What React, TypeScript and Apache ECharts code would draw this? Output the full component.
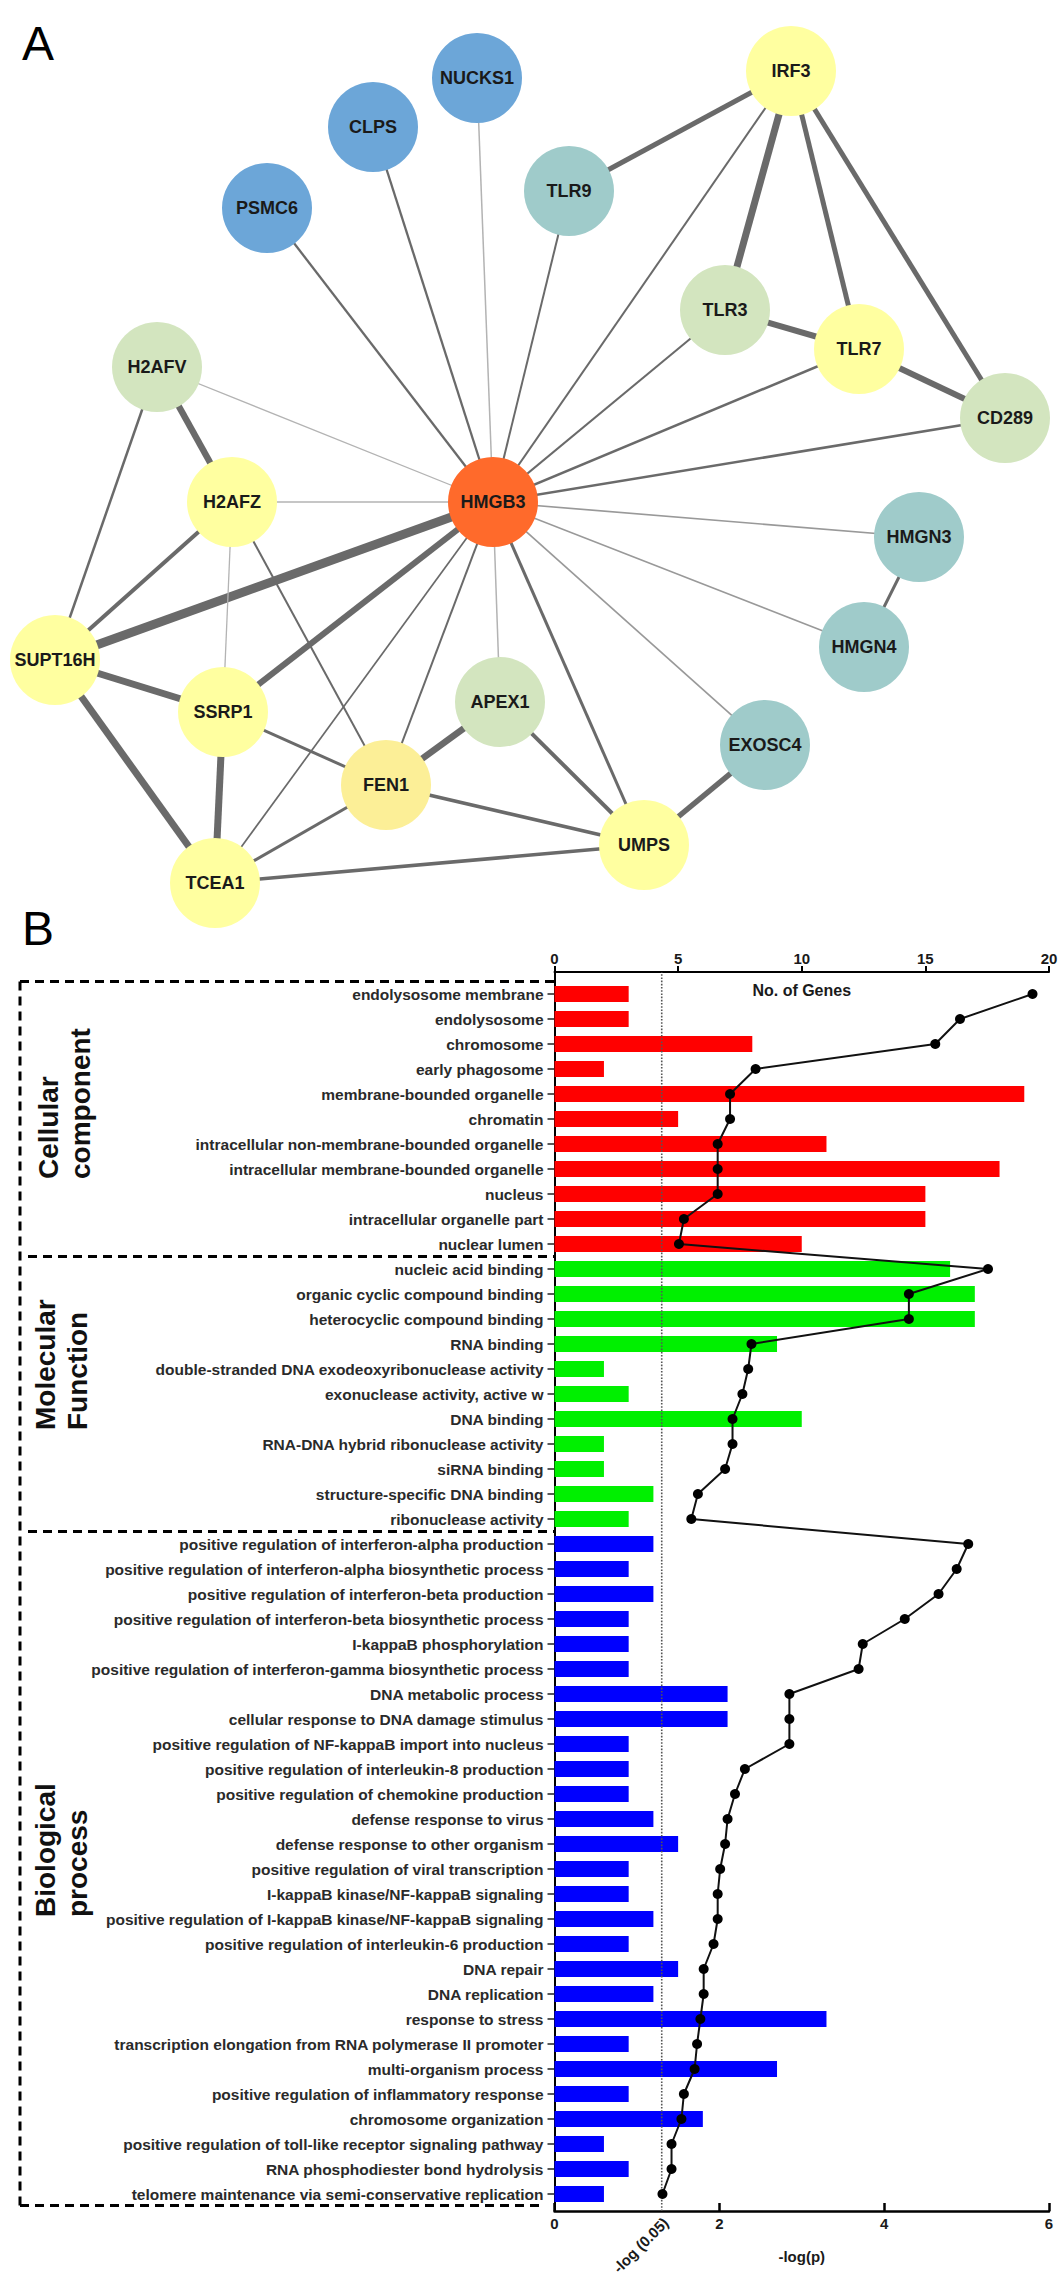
import React, { useEffect, useRef } from 'react';
import * as echarts from 'echarts';

// ---------- Panel A: network ----------
const nodeNames = ['HMGB3', 'IRF3', 'NUCKS1', 'CLPS', 'PSMC6', 'TLR9', 'TLR3', 'TLR7', 'CD289', 'H2AFV', 'H2AFZ', 'HMGN3', 'HMGN4', 'SUPT16H', 'SSRP1', 'APEX1', 'FEN1', 'EXOSC4', 'UMPS', 'TCEA1'];
const nodeX = [493, 791, 477, 373, 267, 569, 725, 859, 1005, 157, 232, 919, 864, 55, 223, 500, 386, 765, 644, 215];
const nodeY = [502, 71, 78, 127, 208, 191, 310, 349, 418, 367, 502, 537, 647, 660, 712, 702, 785, 745, 845, 883];
const nodeGroup = ['hub', 'yellow', 'blue', 'blue', 'blue', 'teal', 'green', 'yellow', 'green', 'green', 'yellow', 'teal', 'teal', 'yellow', 'yellow', 'green', 'gold', 'teal', 'yellow', 'yellow'];

const edgeList: [string, string, number, string][] = [
  ['HMGB3', 'NUCKS1', 1.5, 'l'],
  ['HMGB3', 'CLPS', 2.3, 'd'],
  ['HMGB3', 'PSMC6', 2.3, 'd'],
  ['HMGB3', 'TLR9', 2, 'd'],
  ['HMGB3', 'IRF3', 2, 'd'],
  ['HMGB3', 'TLR3', 2, 'd'],
  ['HMGB3', 'TLR7', 2.5, 'd'],
  ['HMGB3', 'CD289', 2.5, 'd'],
  ['HMGB3', 'H2AFV', 1.3, 'l'],
  ['HMGB3', 'H2AFZ', 1.7, 'l'],
  ['HMGB3', 'HMGN3', 1.7, 'm'],
  ['HMGB3', 'HMGN4', 1.5, 'm'],
  ['HMGB3', 'EXOSC4', 1.7, 'm'],
  ['HMGB3', 'UMPS', 3, 'd'],
  ['HMGB3', 'APEX1', 1.5, 'l'],
  ['HMGB3', 'FEN1', 2, 'd'],
  ['HMGB3', 'TCEA1', 1.7, 'd'],
  ['HMGB3', 'SSRP1', 6, 'd'],
  ['HMGB3', 'SUPT16H', 9, 'd'],
  ['IRF3', 'TLR9', 5, 'd'],
  ['IRF3', 'TLR3', 7, 'd'],
  ['IRF3', 'TLR7', 5, 'd'],
  ['IRF3', 'CD289', 5, 'd'],
  ['TLR3', 'TLR7', 6, 'd'],
  ['TLR7', 'CD289', 6, 'd'],
  ['HMGN3', 'HMGN4', 3, 'd'],
  ['H2AFV', 'H2AFZ', 6.5, 'd'],
  ['H2AFV', 'SUPT16H', 2.5, 'd'],
  ['H2AFZ', 'SUPT16H', 4, 'd'],
  ['H2AFZ', 'SSRP1', 1.3, 'l'],
  ['H2AFZ', 'FEN1', 2, 'd'],
  ['SUPT16H', 'SSRP1', 7, 'd'],
  ['SUPT16H', 'TCEA1', 7, 'd'],
  ['SSRP1', 'TCEA1', 7, 'd'],
  ['SSRP1', 'FEN1', 3, 'd'],
  ['TCEA1', 'FEN1', 3, 'd'],
  ['TCEA1', 'UMPS', 3.5, 'd'],
  ['FEN1', 'APEX1', 6.5, 'd'],
  ['FEN1', 'UMPS', 3.5, 'd'],
  ['APEX1', 'UMPS', 4, 'd'],
  ['EXOSC4', 'UMPS', 5.5, 'd'],
];

// ---------- Panel B: GO enrichment ----------
const ccTerms = ['endolysosome membrane', 'endolysosome', 'chromosome', 'early phagosome', 'membrane-bounded organelle', 'chromatin', 'intracellular non-membrane-bounded organelle', 'intracellular membrane-bounded organelle', 'nucleus', 'intracellular organelle part', 'nuclear lumen'];
const ccGenes = [3, 3, 8, 2, 19, 5, 11, 18, 15, 15, 10];
const ccLogP = [5.8, 4.92, 4.62, 2.44, 2.13, 2.13, 1.98, 1.98, 1.98, 1.57, 1.51];

const mfTerms = ['nucleic acid binding', 'organic cyclic compound binding', 'heterocyclic compound binding', 'RNA binding', 'double-stranded DNA exodeoxyribonuclease activity', 'exonuclease activity, active w', 'DNA binding', 'RNA-DNA hybrid ribonuclease activity', 'siRNA binding', 'structure-specific DNA binding', 'ribonuclease activity'];
const mfGenes = [16, 17, 17, 9, 2, 3, 10, 2, 2, 4, 3];
const mfLogP = [5.26, 4.3, 4.3, 2.39, 2.35, 2.28, 2.16, 2.16, 2.07, 1.74, 1.66];

const bpTerms = ['positive regulation of interferon-alpha production', 'positive regulation of interferon-alpha biosynthetic process', 'positive regulation of interferon-beta production', 'positive regulation of interferon-beta biosynthetic process', 'I-kappaB phosphorylation', 'positive regulation of interferon-gamma biosynthetic process', 'DNA metabolic process', 'cellular response to DNA damage stimulus', 'positive regulation of NF-kappaB import into nucleus', 'positive regulation of interleukin-8 production', 'positive regulation of chemokine production', 'defense response to virus', 'defense response to other organism', 'positive regulation of viral transcription', 'I-kappaB kinase/NF-kappaB signaling', 'positive regulation of I-kappaB kinase/NF-kappaB signaling', 'positive regulation of interleukin-6 production', 'DNA repair', 'DNA replication', 'response to stress', 'transcription elongation from RNA polymerase II promoter', 'multi-organism process', 'positive regulation of inflammatory response', 'chromosome organization', 'positive regulation of toll-like receptor signaling pathway', 'RNA phosphodiester bond hydrolysis', 'telomere maintenance via semi-conservative replication'];
const bpGenes = [4, 3, 4, 3, 3, 3, 7, 7, 3, 3, 3, 4, 5, 3, 3, 4, 3, 5, 4, 11, 3, 9, 3, 6, 2, 3, 2];
const bpLogP = [5.02, 4.88, 4.66, 4.25, 3.74, 3.69, 2.85, 2.85, 2.85, 2.31, 2.19, 2.1, 2.07, 2.01, 1.98, 1.98, 1.93, 1.81, 1.81, 1.77, 1.73, 1.7, 1.57, 1.54, 1.42, 1.42, 1.31];

const geneTicks = [0, 20, 5];
const logPTicks = [0, 6, 2];
const SIG_LEVEL = 0.05;

// ---------- layout / style constants ----------
const W = 1063;
const H = 2280;
const GRID_LEFT = 554.5;
const GRID_RIGHT_X = 1049;
const FRAME_TOP = 972;
const FRAME_BOTTOM = 2211;
const ROWS_TOP = 981.5;
const ROW_H = 25;
const FONT = '"Liberation Sans", Arial, Helvetica, sans-serif';

const groupColors: Record<string, string> = {
  hub: '#ff6a2b',
  yellow: '#ffffa0',
  blue: '#6ca6d8',
  teal: '#9fcbca',
  green: '#d3e5bf',
  gold: '#fcef97',
};
const shadeColors: Record<string, string> = { d: '#6a6a6a', m: '#999999', l: '#b3b3b3' };
const barColors = ['#ff0000', '#00f000', '#0000ff'];

function buildOption() {
  const minX = Math.min(...nodeX);
  const maxX = Math.max(...nodeX);
  const minY = Math.min(...nodeY);
  const maxY = Math.max(...nodeY);

  const nodes = nodeNames.map((n, i) => ({
    name: n,
    x: nodeX[i],
    y: nodeY[i],
    itemStyle: { color: groupColors[nodeGroup[i]] },
  }));
  const links = edgeList.map(([s, t, w, sh]) => ({
    source: s,
    target: t,
    lineStyle: { width: w, color: shadeColors[sh] },
  }));

  const categories = [...ccTerms, ...mfTerms, ...bpTerms];
  const groups = [ccTerms.length, mfTerms.length, bpTerms.length];
  const genes = [...ccGenes, ...mfGenes, ...bpGenes];
  const logP = [...ccLogP, ...mfLogP, ...bpLogP];
  const barData = genes.map((g, i) => {
    const gi = i < groups[0] ? 0 : i < groups[0] + groups[1] ? 1 : 2;
    return { value: g, itemStyle: { color: barColors[gi] } };
  });
  const sig = -Math.log10(SIG_LEVEL);

  const nRows = categories.length;
  const rowsBottom = ROWS_TOP + nRows * ROW_H;
  const div1 = ROWS_TOP + groups[0] * ROW_H;
  const div2 = ROWS_TOP + (groups[0] + groups[1]) * ROW_H;
  const gridW = GRID_RIGHT_X - GRID_LEFT;
  const sigX = GRID_LEFT + (sig / logPTicks[1]) * gridW;

  const dash = { stroke: '#000', lineWidth: 3, lineDash: [9, 6] };
  const BOX_LEFT = 20;

  const axisLabelStyle = { fontFamily: FONT, fontWeight: 'bold', fontSize: 15, color: '#1a1a1a' };

  return {
    animation: false,
    backgroundColor: '#fff',
    grid: [
      { left: GRID_LEFT, right: W - GRID_RIGHT_X, top: FRAME_TOP, bottom: H - FRAME_BOTTOM, containLabel: false },
      { left: GRID_LEFT, right: W - GRID_RIGHT_X, top: ROWS_TOP, bottom: H - rowsBottom, containLabel: false },
    ],
    xAxis: [
      {
        gridIndex: 0, type: 'value', position: 'top', min: geneTicks[0], max: geneTicks[1], interval: geneTicks[2],
        axisLine: { show: true, onZero: false, lineStyle: { color: '#000', width: 2 } },
        axisTick: { show: true, inside: false, length: 6, lineStyle: { color: '#000', width: 2 } },
        axisLabel: { ...axisLabelStyle, margin: 6 },
        splitLine: { show: false },
      },
      {
        gridIndex: 0, type: 'value', position: 'bottom', min: logPTicks[0], max: logPTicks[1], interval: logPTicks[2],
        axisLine: { show: true, onZero: false, lineStyle: { color: '#000', width: 2.5 } },
        axisTick: { show: true, inside: true, length: 8, lineStyle: { color: '#000', width: 2.5 } },
        axisLabel: { ...axisLabelStyle, margin: 5 },
        splitLine: { show: false },
        name: '-log(p)', nameLocation: 'middle', nameGap: 38,
        nameTextStyle: { fontFamily: FONT, fontWeight: 'bold', fontSize: 15, color: '#1a1a1a' },
      },
      { gridIndex: 1, type: 'value', min: geneTicks[0], max: geneTicks[1], show: false },
      { gridIndex: 1, type: 'value', min: logPTicks[0], max: logPTicks[1], show: false },
    ],
    yAxis: [
      {
        gridIndex: 0, type: 'value', min: 0, max: 1,
        axisLine: { show: true, onZero: false, lineStyle: { color: '#000', width: 2 } },
        axisTick: { show: false }, axisLabel: { show: false }, splitLine: { show: false },
      },
      {
        gridIndex: 1, type: 'category', data: categories, inverse: true,
        axisLine: { show: false },
        axisTick: { show: true, alignWithLabel: true, interval: 0, length: 7, lineStyle: { color: '#222', width: 1.5 } },
        axisLabel: { interval: 0, margin: 11, fontFamily: FONT, fontWeight: 'bold', fontSize: 15.5, color: '#2a2a2a' },
        splitLine: { show: false },
      },
    ],
    series: [
      {
        type: 'graph',
        layout: 'none',
        left: minX, top: minY, width: maxX - minX, height: maxY - minY,
        symbol: 'circle',
        symbolSize: 90,
        roam: false,
        silent: true,
        edgeSymbol: ['none', 'none'],
        label: { show: true, position: 'inside', fontFamily: FONT, fontWeight: 'bold', fontSize: 18, color: '#1a1a1a' },
        lineStyle: { opacity: 1, curveness: 0 },
        data: nodes,
        links,
        z: 2,
      },
      {
        type: 'bar', xAxisIndex: 2, yAxisIndex: 1, data: barData, barWidth: 16, z: 2, silent: true,
      },
      {
        type: 'line', xAxisIndex: 1, yAxisIndex: 0, data: [[sig, 0], [sig, 1]], symbol: 'none', silent: true,
        lineStyle: { type: 'dotted', width: 1.6, color: '#555' }, z: 3,
      },
      {
        type: 'line', xAxisIndex: 3, yAxisIndex: 1, data: logP, symbol: 'circle', symbolSize: 10, silent: true,
        itemStyle: { color: '#000' }, lineStyle: { color: '#111', width: 2 }, z: 4,
      },
    ],
    graphic: [
      { type: 'text', x: 22, y: 43, style: { text: 'A', fontFamily: FONT, fontSize: 48, fill: '#000', align: 'left', verticalAlign: 'middle' } },
      { type: 'text', x: 22, y: 928, style: { text: 'B', fontFamily: FONT, fontSize: 48, fill: '#000', align: 'left', verticalAlign: 'middle' } },
      { type: 'text', x: (GRID_LEFT + GRID_RIGHT_X) / 2, y: FRAME_TOP + 18, style: { text: 'No. of Genes', fontFamily: FONT, fontWeight: 'bold', fontSize: 16, fill: '#1a1a1a', align: 'center', verticalAlign: 'middle' } },
      { type: 'text', x: 64, y: 1179, rotation: Math.PI / 2, style: { text: 'Cellular\ncomponent', fontFamily: FONT, fontWeight: 'bold', fontSize: 28, lineHeight: 32, fill: '#111', align: 'left', verticalAlign: 'middle' } },
      { type: 'text', x: 61, y: 1430, rotation: Math.PI / 2, style: { text: 'Molecular\nFunction', fontFamily: FONT, fontWeight: 'bold', fontSize: 28, lineHeight: 32, fill: '#111', align: 'left', verticalAlign: 'middle' } },
      { type: 'text', x: 61, y: 1917, rotation: Math.PI / 2, style: { text: 'Biological\nprocess', fontFamily: FONT, fontWeight: 'bold', fontSize: 28, lineHeight: 32, fill: '#111', align: 'left', verticalAlign: 'middle' } },
      { type: 'text', x: sigX + 4, y: FRAME_BOTTOM + 9, rotation: Math.PI / 4, style: { text: '-log (0.05)', fontFamily: FONT, fontWeight: 'bold', fontSize: 15, fill: '#1a1a1a', align: 'right', verticalAlign: 'middle' } },
      { type: 'line', shape: { x1: BOX_LEFT, y1: ROWS_TOP, x2: GRID_LEFT, y2: ROWS_TOP }, style: dash },
      { type: 'line', shape: { x1: BOX_LEFT + 8, y1: div1, x2: GRID_LEFT, y2: div1 }, style: dash },
      { type: 'line', shape: { x1: BOX_LEFT + 8, y1: div2, x2: GRID_LEFT, y2: div2 }, style: dash },
      { type: 'line', shape: { x1: BOX_LEFT, y1: rowsBottom - 1, x2: GRID_LEFT - 14, y2: rowsBottom - 1 }, style: dash },
      { type: 'line', shape: { x1: BOX_LEFT, y1: ROWS_TOP, x2: BOX_LEFT, y2: rowsBottom }, style: dash },
    ],
  };
}

export default function App() {
  const ref = useRef<HTMLDivElement>(null);
  useEffect(() => {
    if (!ref.current) return;
    const chart = echarts.init(ref.current, undefined, { renderer: 'svg' });
    chart.setOption(buildOption() as any);
    return () => chart.dispose();
  }, []);
  return <div ref={ref} style={{ position: 'absolute', left: 0, top: 0, width: W, height: H, background: '#fff' }} />;
}
